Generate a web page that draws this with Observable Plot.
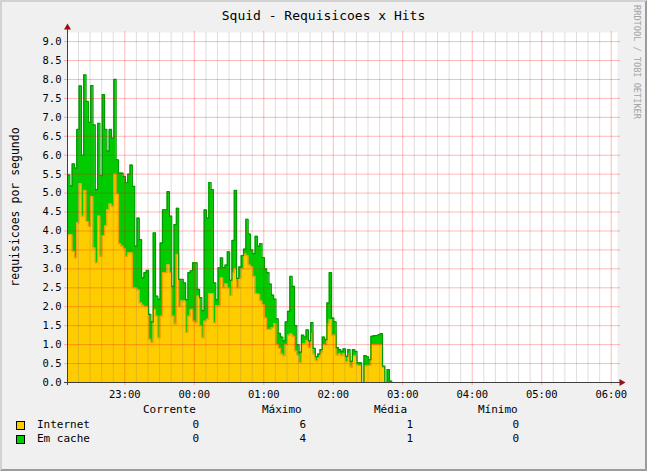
<!DOCTYPE html>
<html>
<head>
<meta charset="utf-8">
<script src="https://cdn.jsdelivr.net/npm/d3@7"></script>
<script src="https://cdn.jsdelivr.net/npm/@observablehq/plot@0.6"></script>
<style>
  html, body { margin: 0; padding: 0; background: #ffffff; }
  #wrap { position: relative; width: 647px; height: 471px; background: #f0f0f0; overflow: hidden;
          font-family: 'DejaVu Sans Mono', monospace; color: #000; }
  #wrap svg { position: absolute; left: 0; top: 0; }
  .abs { position: absolute; white-space: nowrap; }
  #border { position: absolute; left: 0; top: 0; width: 647px; height: 471px; box-sizing: border-box;
            border-top: 2px solid #d2d2d2; border-left: 2px solid #d2d2d2;
            border-right: 2px solid #9c9c9c; border-bottom: 2px solid #9c9c9c; pointer-events: none; }
  .box { position: absolute; width: 7px; height: 7px; border: 1px solid #000; }
</style>
</head>
<body>
<div id="wrap"></div>
<script>
// ---- data ----
const titleText = "Squid - Requisicoes x Hits";
const yLabel = "requisicoes por segundo";
const credit = "RRDTOOL / TOBI OETIKER";
const seriesNames = ["Internet", "Em cache"];
const seriesFill = ["#FFCC00", "#00CC00"];
const seriesLine = ["#F2A200", "#009A00"];
const legendHeaders = ["Corrente", "Máximo", "Média", "Mínimo"];
const corrente = [0, 0];
const maximo = [6, 4];
const media = [1, 1];
const minimo = [0, 0];

// time of first sample (UTC) and sample step in minutes
const startTime = Date.UTC(2000, 0, 1, 22, 10, 30);
const stepMinutes = 2;
const viewEnd = Date.UTC(2000, 0, 2, 6, 5, 26);
const yTop = 9.24;
const yTickValues = [0,0.5,1,1.5,2,2.5,3,3.5,4,4.5,5,5.5,6,6.5,7,7.5,8,8.5,9];

const internet = [
3.9,3.9,3.46,3.29,4.21,5.25,4.39,5.07,4.25,4.12,
4.91,3.55,3.16,4.39,3.33,3.88,4.14,4.56,4.71,4.65,
5.5,4.97,3.66,3.6,3.54,3.33,3.42,3.42,2.5,2.5,
2.44,2.1,2.04,2.0,2.0,1.14,1.05,1.93,1.75,1.18,
1.75,2.9,2.9,3.11,2.9,1.75,1.54,3.38,2.0,2.15,
2.15,1.32,1.75,1.93,1.62,1.58,2.28,1.49,1.18,1.62,
1.67,2.35,2.35,1.58,2.03,2.03,2.76,2.5,2.6,2.5,
2.3,2.9,3.0,2.5,2.75,3.0,3.4,3.35,3.1,3.05,
2.8,2.35,2.33,2.15,2.05,1.7,1.4,1.4,1.45,1.55,
1.0,0.9,0.75,0.7,1.0,1.25,1.28,1.22,0.83,0.72,
0.53,1.02,1.03,1.1,0.92,1.3,0.75,0.58,0.65,0.8,
1.0,1.0,1.55,1.66,1.25,1.25,0.72,0.75,0.7,0.75,
0.55,0.75,0.4,0.7,0.7,0.45,0.45,0,0.43,0.45,
0.45,1.0,1.0,1.0,1.0,1.0,0.4,0,0,0,
0,0];
const emCache = [
1.58,1.29,2.31,2.37,2.47,2.58,1.61,3.05,3.17,2.75,
2.93,3.25,1.93,2.45,2.13,3.72,2.54,1.55,1.97,1.8,
2.5,0.91,1.87,1.93,1.9,1.95,2.08,2.32,2.68,1.1,
1.9,1.67,0.72,0.9,0.96,0.66,0.55,2.02,0.53,1.02,
1.93,1.66,1.66,1.93,1.49,0.79,2.63,1.22,0.72,0.57,
0.48,0.87,1.15,1.02,1.54,1.58,0.18,0.75,0.72,2.94,
2.67,2.93,2.74,1.05,0.16,1.0,0.53,0.53,0.5,0.95,
0.4,0.85,2.07,0.25,0.3,0.35,0.12,0.96,0.82,0.45,
0.6,1.51,1.27,1.52,1.25,1.3,1.5,1.2,0.86,0.65,
0.68,0.4,0.45,0.4,0.6,0.63,1.52,1.32,0.67,0.28,
0.27,0.23,0.17,0.29,0.18,0.28,0.15,0.1,0.1,0.07,
0.2,0.13,0.55,1.24,0.45,0.35,0.2,0.12,0.12,0.14,
0.14,0.12,0.16,0.17,0.12,0.07,0.07,0,0.28,0.23,
0.15,0.22,0.24,0.24,0.26,0.29,0.03,0,0.34,0.04,
0,0];

// ---- build table ----
const rows = [];
internet.forEach((v, i) => {
  const t = new Date(startTime + i * stepMinutes * 60000);
  rows.push({time: t, series: seriesNames[0], value: v});
  rows.push({time: t, series: seriesNames[1], value: emCache[i]});
});
const fillOf = Object.fromEntries(seriesNames.map((s, i) => [s, seriesFill[i]]));
const lineOf = Object.fromEntries(seriesNames.map((s, i) => [s, seriesLine[i]]));

const xStart = new Date(startTime);
const xEnd = new Date(viewEnd);
const pxMin = 60 / 69.49;            // minutes per pixel on this chart
const pxVal = 9 / 341;               // value units per pixel
const minutes = m => m * 60000;
const hourTicks = d3.utcHour.range(xStart, xEnd);
const minorTicks = d3.utcMinute.every(10).range(xStart, xEnd).filter(d => d.getUTCMinutes() !== 0);
const majorY = yTickValues.filter(v => v > 0);

const plot = Plot.plot({
  width: 647, height: 471,
  marginLeft: 67, marginRight: 30, marginTop: 32, marginBottom: 89,
  style: {background: "transparent", fontFamily: "'DejaVu Sans Mono', monospace", fontSize: "10.5px", color: "#000", overflow: "visible"},
  x: {type: "utc", domain: [xStart, xEnd], ticks: hourTicks, tickFormat: d3.utcFormat("%H:%M"), tickSize: 0, tickPadding: 8, label: null},
  y: {domain: [0, yTop], ticks: yTickValues, tickFormat: d3.format(".1f"), tickSize: 0, tickPadding: 6, label: null},
  color: {type: "identity"},
  marks: [
    Plot.frame({fill: "#ffffff", stroke: "none"}),
    Plot.areaY(rows, {x: "time", y: "value", z: "series", fill: d => fillOf[d.series], curve: "step-after"}),
    Plot.line(rows, Plot.stackY2({x: "time", y: "value", z: "series", stroke: d => lineOf[d.series], strokeWidth: 1.2, curve: "step-after"})),
    Plot.ruleX(minorTicks, {stroke: "rgba(110,110,110,0.22)", strokeWidth: 1}),
    Plot.ruleX(hourTicks, {y1: -3 * pxVal, y2: yTop + pxVal, stroke: "rgba(255,0,0,0.28)", strokeWidth: 1}),
    Plot.ruleY(majorY, {x1: new Date(startTime - minutes(3 * pxMin)), x2: new Date(viewEnd + minutes(3 * pxMin)), stroke: "rgba(255,0,0,0.28)", strokeWidth: 1}),
    Plot.ruleY([0], {x1: new Date(startTime - minutes(3 * pxMin)), x2: new Date(viewEnd + minutes(3 * pxMin)), stroke: "#404040", strokeWidth: 1}),
    Plot.ruleX([xStart], {y1: -3 * pxVal, y2: yTop + 4 * pxVal, stroke: "#404040", strokeWidth: 1}),
    Plot.dot([{t: new Date(viewEnd + minutes(4 * pxMin)), v: 0}], {x: "t", y: "v", symbol: "triangle", rotate: 90, r: 2.6, fill: "#9a1010", stroke: "none"}),
    Plot.dot([{t: xStart, v: yTop + 5 * pxVal}], {x: "t", y: "v", symbol: "triangle", r: 2.6, fill: "#9a1010", stroke: "none"})
  ]
});

const wrap = document.getElementById("wrap");
wrap.appendChild(plot);

function addText(txt, css) {
  const d = document.createElement("div");
  d.className = "abs";
  d.textContent = txt;
  Object.assign(d.style, css);
  wrap.appendChild(d);
  return d;
}
// title
addText(titleText, {left: "0px", width: "647px", textAlign: "center", top: "8px", fontSize: "13px", lineHeight: "16px"});
// y label (rotated)
addText(yLabel, {left: "15px", top: "207px", fontSize: "11.5px", lineHeight: "14px", transform: "translate(-50%,-50%) rotate(-90deg)"});
// credit (rotated clockwise)
addText(credit, {left: "637px", top: "62px", fontSize: "8.6px", lineHeight: "10px", color: "#a4a4a4", transform: "translate(-50%,-50%) rotate(90deg)"});

// legend
const headerLeft = [143, 262, 374, 478];
const valueRight = [199, 306, 413, 519];
legendHeaders.forEach((h, i) => addText(h, {left: headerLeft[i] + "px", top: "403px", fontSize: "11px", lineHeight: "14px"}));
const rowTop = [418, 432];
const stats = [corrente, maximo, media, minimo];
seriesNames.forEach((s, r) => {
  const b = document.createElement("div");
  b.className = "box";
  Object.assign(b.style, {left: "16px", top: (rowTop[r] + 3) + "px", background: seriesFill[r]});
  wrap.appendChild(b);
  addText(s, {left: "37px", top: rowTop[r] + "px", fontSize: "11px", lineHeight: "14px"});
  stats.forEach((arr, c) => addText(String(arr[r]), {left: (valueRight[c] - 40) + "px", width: "40px", textAlign: "right", top: rowTop[r] + "px", fontSize: "11px", lineHeight: "14px"}));
});

const border = document.createElement("div");
border.id = "border";
wrap.appendChild(border);
</script>
</body>
</html>
